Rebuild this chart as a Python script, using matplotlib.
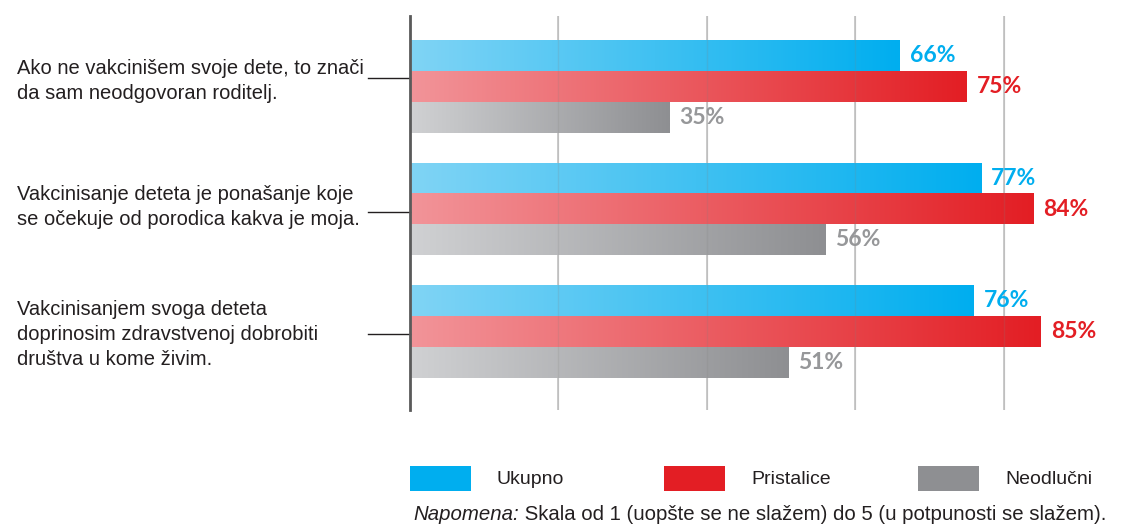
import matplotlib

matplotlib.use("Agg")
import matplotlib.pyplot as plt
import numpy as np
from matplotlib.colors import LinearSegmentedColormap
from matplotlib.patches import Rectangle

# survey statements (left labels) and shares of agreement per group
STATEMENTS = [
    "Ako ne vakcinišem svoje dete, to znači\nda sam neodgovoran roditelj.",
    "Vakcinisanje deteta je ponašanje koje\nse očekuje od porodica kakva je moja.",
    "Vakcinisanjem svoga deteta\ndoprinosim zdravstvenoj dobrobiti\ndruštva u kome živim.",
]
SERIES = ["Ukupno", "Pristalice", "Neodlučni"]
UKUPNO = [66, 77, 76]
PRISTALICE = [75, 84, 85]
NEODLUCNI = [35, 56, 51]
NOTE_ITALIC = "Napomena:"
NOTE_TEXT = " Skala od 1 (uopšte se ne slažem) do 5 (u potpunosti se slažem)."

SOLID = ["#00aeef", "#e31e24", "#8e8f92"]
LIGHT = ["#80d4f5", "#f29499", "#d0d1d3"]
LABEL_COLORS = ["#00aeef", "#e31e24", "#969799"]
TEXT_COLOR = "#231f20"
FONT = "Liberation Sans"

W, H, DPI = 1138, 525, 100
PX_PER_PCT = 7.42
BAR_H = 0.25

fig = plt.figure(figsize=(W / DPI, H / DPI), dpi=DPI)
ax_left = 410 / W
ax = fig.add_axes([ax_left, 1 - 410 / H, 1 - ax_left, (410 - 16) / H])

for side in ("top", "right", "bottom"):
    ax.spines[side].set_visible(False)
ax.spines["left"].set_color("#5a5a5a")
ax.spines["left"].set_linewidth(2.0)
ax.spines["left"].set_zorder(5)
ax.set_xticks([])
ax.set_yticks([])

grid_x = [20, 40, 60, 80]
for gx in grid_x:
    ax.axvline(gx, color="#c8c8c8", linewidth=1.3, zorder=0)
    ax.axvline(gx, color="#808080", linewidth=1.0, alpha=0.18, zorder=3)

values = [UKUPNO, PRISTALICE, NEODLUCNI]
offsets = [-BAR_H, 0.0, BAR_H]
ramp = np.linspace(0, 1, 256).reshape(1, -1)

for s, series_vals in enumerate(values):
    cmap = LinearSegmentedColormap.from_list(f"grad{s}", [LIGHT[s], SOLID[s]])
    for g, val in enumerate(series_vals):
        y = g + offsets[s]
        ax.imshow(
            ramp,
            cmap=cmap,
            extent=(0, val, y + BAR_H / 2, y - BAR_H / 2),
            aspect="auto",
            interpolation="bilinear",
            zorder=2,
        )
        ax.text(
            val + 10 / PX_PER_PCT,
            y,
            f"{val}%",
            color=LABEL_COLORS[s],
            fontsize=16.5,
            fontfamily="Lato",
            fontweight="bold",
            va="center",
            ha="left",
        )

ax.set_xlim(0, (W - 410) / PX_PER_PCT)
ax.set_ylim(2.64, -0.576)

# statement labels with short leader lines to the axis
leader_y = [-0.07, 1.025, 2.02]
text_y = [-0.045, 0.985, 2.02]
for g, text in enumerate(STATEMENTS):
    ax.annotate(
        text,
        xy=(17 / W, text_y[g]),
        xycoords=("figure fraction", "data"),
        ha="left",
        va="center",
        fontsize=14.5,
        fontfamily=FONT,
        color=TEXT_COLOR,
        linespacing=1.4,
        annotation_clip=False,
    )
    ax.plot(
        [-42 / PX_PER_PCT, 0],
        [leader_y[g], leader_y[g]],
        color=TEXT_COLOR,
        linewidth=1.0,
        clip_on=False,
        zorder=4,
    )

# legend row
lax = fig.add_axes([0, 0, 1, 1])
lax.set_xlim(0, W)
lax.set_ylim(H, 0)
lax.axis("off")
for i, name in enumerate(SERIES):
    x0 = 410 + i * 254
    lax.add_patch(Rectangle((x0, 466), 61, 25, facecolor=SOLID[i], edgecolor="none"))
    lax.text(x0 + 87, 479, name, fontsize=14, fontfamily=FONT,
             color=TEXT_COLOR, va="center", ha="left")

note = lax.text(413, 514, NOTE_ITALIC, fontsize=14.7, fontfamily=FONT,
                style="italic", color=TEXT_COLOR, va="center", ha="left")
lax.annotate(NOTE_TEXT, xy=(1, 0), xycoords=note, xytext=(0, 0),
             textcoords="offset points", fontsize=14.7, fontfamily=FONT,
             color=TEXT_COLOR, va="bottom", ha="left")

fig.savefig("out.png", dpi=DPI)
